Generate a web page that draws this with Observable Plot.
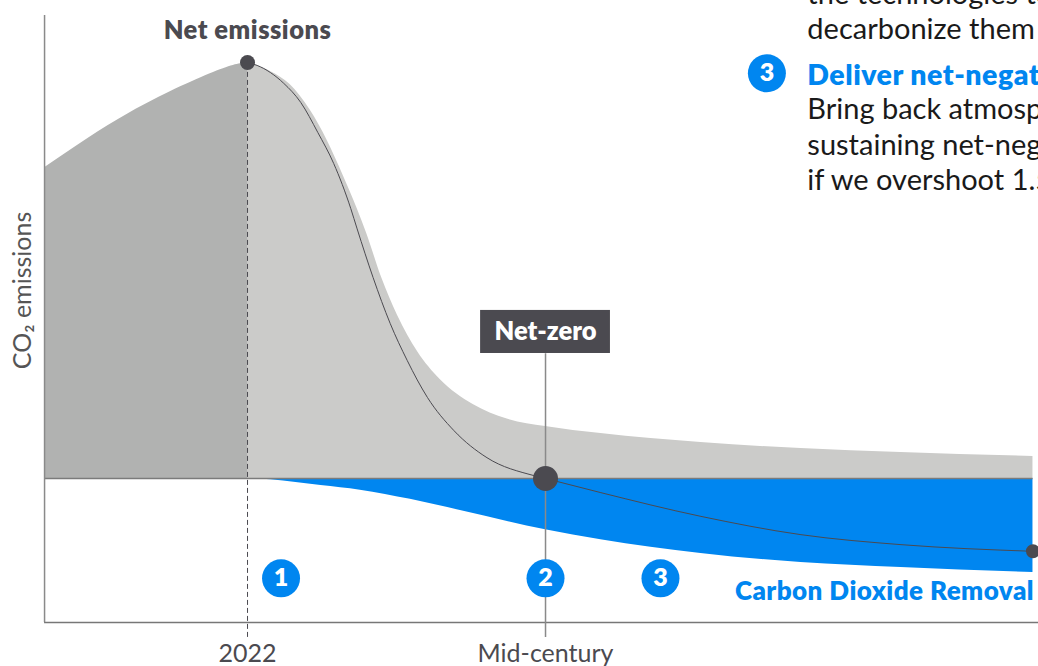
<!DOCTYPE html>
<html>
<head>
<meta charset="utf-8">
<script src="https://cdn.jsdelivr.net/npm/d3@7"></script>
<script src="https://cdn.jsdelivr.net/npm/@observablehq/plot@0.6"></script>
<style>
html,body{margin:0;padding:0;background:#fff;overflow:hidden}
svg{display:block}
</style>
</head>
<body>
<div id="chart"></div>
<script>
const pastYears = [2003, 2011, 2018.8, 2022];
const pastEmissions = [74.8, 88, 97.6, 100];

const grossYears = [2022, 2024.2, 2026, 2027.9, 2029.5, 2031, 2032.3, 2033.2, 2034.6, 2036.1, 2038, 2040.1, 2043.2, 2046.4, 2050, 2055.2, 2064.6, 2074, 2083.4, 2095.8];
const grossEmissions = [100, 97.8, 94.7, 88.5, 81.2, 72.8, 64.9, 58.9, 48.3, 39.2, 30.4, 23.8, 17.8, 14.3, 12.5, 10.8, 8.65, 7.2, 6.25, 5.3];

const netYears = [2022, 2022.9, 2025.4, 2027, 2028.6, 2030.1, 2031.7, 2032.3, 2033.8, 2035.4, 2037, 2038.9, 2041.4, 2044.5, 2048.9, 2050, 2055.2, 2064.6, 2074, 2083.4, 2095.8];
const netEmissions = [100, 99.3, 95, 90.4, 83.2, 75.7, 64.9, 60, 48.3, 37.3, 28.4, 19.5, 11.5, 5, 0.7, 0, -3.4, -9.1, -13.5, -15.9, -17.5];

const cdrYears = [2022, 2024.2, 2028.9, 2032.6, 2037.3, 2042, 2050, 2055.2, 2064.6, 2074, 2083.4, 2095.8];
const cdrValues = [0, -0.3, -1.7, -2.8, -5, -7.7, -12.3, -14.7, -18, -20.2, -21.4, -22.6];

const tickYears = [2022, 2050];
const tickLabels = ["2022", "Mid-century"];

const stepYears = [2025.15, 2050, 2060.8];
const stepLabels = ["1", "2", "3"];

const bodyLines = ["the technologies to", "decarbonize them", "Bring back atmospheric", "sustaining net-negative", "if we overshoot 1.5"];
const bodyLevels = [116.3, 107.9, 88.7, 80, 71.6];

const zip = (xs, ys) => xs.map((x, i) => ({x, y: ys[i]}));
const past = zip(pastYears, pastEmissions);
const gross = zip(grossYears, grossEmissions);
const net = zip(netYears, netEmissions);
const cdr = zip(cdrYears, cdrValues);
const ink = "#4b4a50", blue = "#0086f0", axisGray = "#8a8a8a";
const font = "Lato, 'Open Sans', sans-serif";
const xMin = 2002.93, xMax = 2096.32, yBase = -34.6;

const chart = Plot.plot({
  width: 1038, height: 666,
  margin: 0,
  style: {fontFamily: font, background: "#fff"},
  x: {domain: [1998.79, 2096.32], range: [0, 1038], axis: null},
  y: {domain: [-45.19, 114.9], range: [666, 0], axis: null},
  marks: [
    Plot.areaY(past, {x: "x", y1: 0, y2: "y", fill: "#b1b2b1", curve: "natural"}),
    Plot.areaY(gross, {x: "x", y1: 0, y2: "y", fill: "#cbcbc9", curve: "monotone-x"}),
    Plot.areaY(cdr, {x: "x", y1: 0, y2: "y", fill: blue, curve: "monotone-x"}),
    Plot.ruleY([0], {x1: xMin, x2: 2095.8, stroke: "#7b7b7b", strokeWidth: 1.5}),
    Plot.ruleX([xMin], {y1: yBase, y2: 111.3, stroke: axisGray, strokeWidth: 1.5}),
    Plot.ruleY([yBase], {x1: xMin, x2: xMax, stroke: "#777", strokeWidth: 1.5}),
    Plot.ruleX([2022], {y1: -38.2, y2: 100, stroke: ink, strokeWidth: 1, strokeDasharray: "5,3"}),
    Plot.ruleX([2050], {y1: -38.2, y2: 30, stroke: axisGray, strokeWidth: 1.5}),
    Plot.lineY(net, {x: "x", y: "y", stroke: ink, strokeWidth: 1, curve: "monotone-x"}),
    Plot.dot([{x: 2022, y: 100}], {x: "x", y: "y", r: 7.5, fill: ink}),
    Plot.dot([{x: 2050, y: 0}], {x: "x", y: "y", r: 12.5, fill: ink}),
    Plot.dot([{x: 2095.8, y: -17.5}], {x: "x", y: "y", r: 7, fill: ink}),
    Plot.rectY([0], {x1: 2043.9, x2: 2056.1, y1: 30.05, y2: 40.4, fill: ink}),
    Plot.text(["Net-zero"], {x: 2050, y: 35.2, text: d => d, fill: "#fff", fontSize: 25.5, fontWeight: 800, lineAnchor: "middle"}),
    Plot.text(["Net emissions"], {x: 2022, y: 107.7, text: d => d, fill: ink, fontSize: 25.5, fontWeight: 800, lineAnchor: "middle"}),
    Plot.text(tickLabels, {x: (d, i) => tickYears[i], y: -42.1, text: d => d, fill: ink, fontSize: 25, lineAnchor: "middle"}),
    Plot.text(["CO₂ emissions"], {x: 2000.86, y: 45.2, text: d => d, fill: "#555", fontSize: 25, rotate: -90, lineAnchor: "middle"}),
    Plot.text(["Carbon Dioxide Removal"], {x: 2095.9, y: -27.2, text: d => d, fill: blue, fontSize: 26, fontWeight: 800, textAnchor: "end", lineAnchor: "middle"}),
    Plot.dot(stepYears, {x: d => d, y: -24, r: 19, fill: blue}),
    Plot.text(stepLabels, {x: (d, i) => stepYears[i], y: -24, text: d => d, fill: "#fff", fontSize: 25, fontWeight: 800, lineAnchor: "middle"}),
    Plot.dot([2070.8], {x: d => d, y: 97.4, r: 19, fill: blue}),
    Plot.text(["3"], {x: 2070.8, y: 97.4, text: d => d, fill: "#fff", fontSize: 25, fontWeight: 800, lineAnchor: "middle"}),
    Plot.text(["Deliver net-negative"], {x: 2074.6, y: 96.9, text: d => d, fill: blue, fontSize: 28.5, fontWeight: 800, textAnchor: "start", lineAnchor: "middle"}),
    Plot.text(bodyLines, {x: 2074.6, y: (d, i) => bodyLevels[i], text: d => d, fill: "#1a1a1a", fontSize: 29, textAnchor: "start", lineAnchor: "middle"})
  ]
});
const tracking = {"Net emissions": "0.5px", "Carbon Dioxide Removal": "0.45px", "Deliver net-negative": "0.5px"};
chart.querySelectorAll("text").forEach(t => {
  const s = tracking[t.textContent];
  if (s) t.style.letterSpacing = s;
});
document.getElementById("chart").appendChild(chart);
</script>
</body>
</html>
